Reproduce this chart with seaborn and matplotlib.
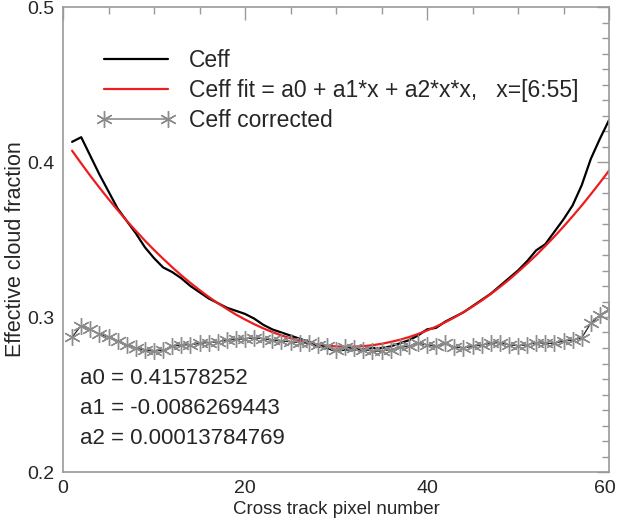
import numpy as np
import pandas as pd
import matplotlib
matplotlib.use("Agg")
import matplotlib.pyplot as plt
from matplotlib.lines import Line2D
from matplotlib.ticker import MultipleLocator
import matplotlib.transforms as mtransforms
import seaborn as sns

# ---------------- data ----------------
pixel = list(range(1, 61))

ceff = [0.413, 0.416, 0.404, 0.392, 0.381, 0.370, 0.362, 0.354, 0.345, 0.338,
        0.332, 0.329, 0.325, 0.320, 0.316, 0.312, 0.309, 0.306, 0.304, 0.302,
        0.299, 0.295, 0.292, 0.290, 0.288, 0.286, 0.284, 0.281, 0.280, 0.278,
        0.279, 0.279, 0.279, 0.280, 0.280, 0.281, 0.283, 0.285, 0.288, 0.292,
        0.293, 0.297, 0.300, 0.303, 0.307, 0.311, 0.315, 0.320, 0.325, 0.330,
        0.336, 0.343, 0.347, 0.355, 0.363, 0.372, 0.385, 0.402, 0.415, 0.427]

ceff_fit = [0.4073, 0.3991, 0.3911, 0.3835, 0.3761, 0.3690, 0.3621, 0.3556, 0.3493, 0.3433,
            0.3376, 0.3321, 0.3269, 0.3220, 0.3174, 0.3130, 0.3090, 0.3052, 0.3016, 0.2984,
            0.2954, 0.2927, 0.2903, 0.2881, 0.2863, 0.2847, 0.2833, 0.2823, 0.2815, 0.2810,
            0.2808, 0.2809, 0.2812, 0.2818, 0.2827, 0.2839, 0.2853, 0.2870, 0.2890, 0.2913,
            0.2938, 0.2966, 0.2997, 0.3031, 0.3067, 0.3106, 0.3148, 0.3193, 0.3240, 0.3291,
            0.3344, 0.3399, 0.3458, 0.3519, 0.3583, 0.3650, 0.3719, 0.3792, 0.3867, 0.3944]

ceff_corrected = [0.287, 0.2945, 0.292, 0.289, 0.287, 0.2845, 0.282, 0.280, 0.2785, 0.278,
                  0.2785, 0.281, 0.282, 0.282, 0.283, 0.2835, 0.284, 0.285, 0.2855, 0.286,
                  0.2865, 0.286, 0.285, 0.2845, 0.284, 0.2835, 0.283, 0.282, 0.281, 0.279,
                  0.2805, 0.280, 0.279, 0.278, 0.278, 0.279, 0.2805, 0.281, 0.283, 0.282,
                  0.281, 0.283, 0.2805, 0.280, 0.281, 0.282, 0.283, 0.2835, 0.282, 0.2815,
                  0.282, 0.2835, 0.283, 0.283, 0.2845, 0.285, 0.2865, 0.296, 0.301, 0.305]

series_labels = ["Ceff", "Ceff fit = a0 + a1*x + a2*x*x,   x=[6:55]", "Ceff corrected"]
coef_text = ["a0 = 0.41578252", "a1 = -0.0086269443", "a2 = 0.00013784769"]
x_ticks = [0, 20, 40, 60]
y_ticks = [0.2, 0.3, 0.4, 0.5]

# ---------------- style ----------------
sns.set_style("white")
plt.rcParams['font.family'] = ['Liberation Sans', 'DejaVu Sans']

df = pd.DataFrame({"x": pixel, "ceff": ceff, "fit": ceff_fit, "corr": ceff_corrected})

fig = plt.figure(figsize=(6.19, 5.30), dpi=100)
ax = fig.add_axes([63/619, 1 - 472/530, (609 - 63)/619, (472 - 7)/530])

asterisk = (6, 2, 0)
gray = "#8c8c8c"

sns.lineplot(data=df, x="x", y="ceff", ax=ax, color="black", linewidth=1.6)
sns.lineplot(data=df, x="x", y="fit", ax=ax, color="#ee1c1c", linewidth=1.6)
sns.lineplot(data=df, x="x", y="corr", ax=ax, color="#222222", linewidth=0.9,
             marker=asterisk, markersize=12, markeredgecolor=gray,
             markerfacecolor=gray, markeredgewidth=1.0)

ax.set_xlim(0, 60)
ax.set_ylim(0.2, 0.5)
ax.set_xticks(x_ticks)
ax.set_yticks(y_ticks)
ax.set_xticklabels([str(t) for t in x_ticks])
ax.set_yticklabels([f"{t:.1f}" for t in y_ticks])
ax.xaxis.set_minor_locator(MultipleLocator(5))
ax.yaxis.set_minor_locator(MultipleLocator(0.01))
ax.tick_params(which="both", direction="in", top=True, right=True,
               color="#999999", labelsize=14, pad=6)
ax.tick_params(which="major", length=9, width=1)
ax.tick_params(which="minor", length=5, width=1)
for s in ax.spines.values():
    s.set_color("#999999")
    s.set_linewidth(1.2)

# nudge the last x tick label so it stays inside the figure
last = ax.get_xticklabels()[-1]
last.set_transform(last.get_transform() +
                   mtransforms.ScaledTranslation(-4/100, 0, fig.dpi_scale_trans))

ax.set_xlabel("Cross track pixel number", fontsize=13.5, labelpad=3)
ax.set_ylabel("Effective cloud fraction", fontsize=15.5)
ax.yaxis.set_label_coords(-0.067, 0.48)

handles = [
    Line2D([0], [0], color="black", linewidth=1.6),
    Line2D([0], [0], color="#ee1c1c", linewidth=1.6),
    Line2D([0], [0], color=gray, linewidth=1.2, marker=asterisk, markersize=12,
           markeredgecolor=gray, markeredgewidth=1.0),
]
ax.legend(handles, series_labels, loc="upper left", bbox_to_anchor=(0.062, 0.909),
          frameon=False, fontsize=16.5, handlelength=3.4, handletextpad=0.6,
          labelspacing=0.3, borderaxespad=0, borderpad=0, numpoints=2)

for i, t in enumerate(coef_text):
    ax.text(0.031, 0.202 - i * 0.0645, t, transform=ax.transAxes, fontsize=16,
            va="center", ha="left")

fig.savefig("out.png", dpi=100)
